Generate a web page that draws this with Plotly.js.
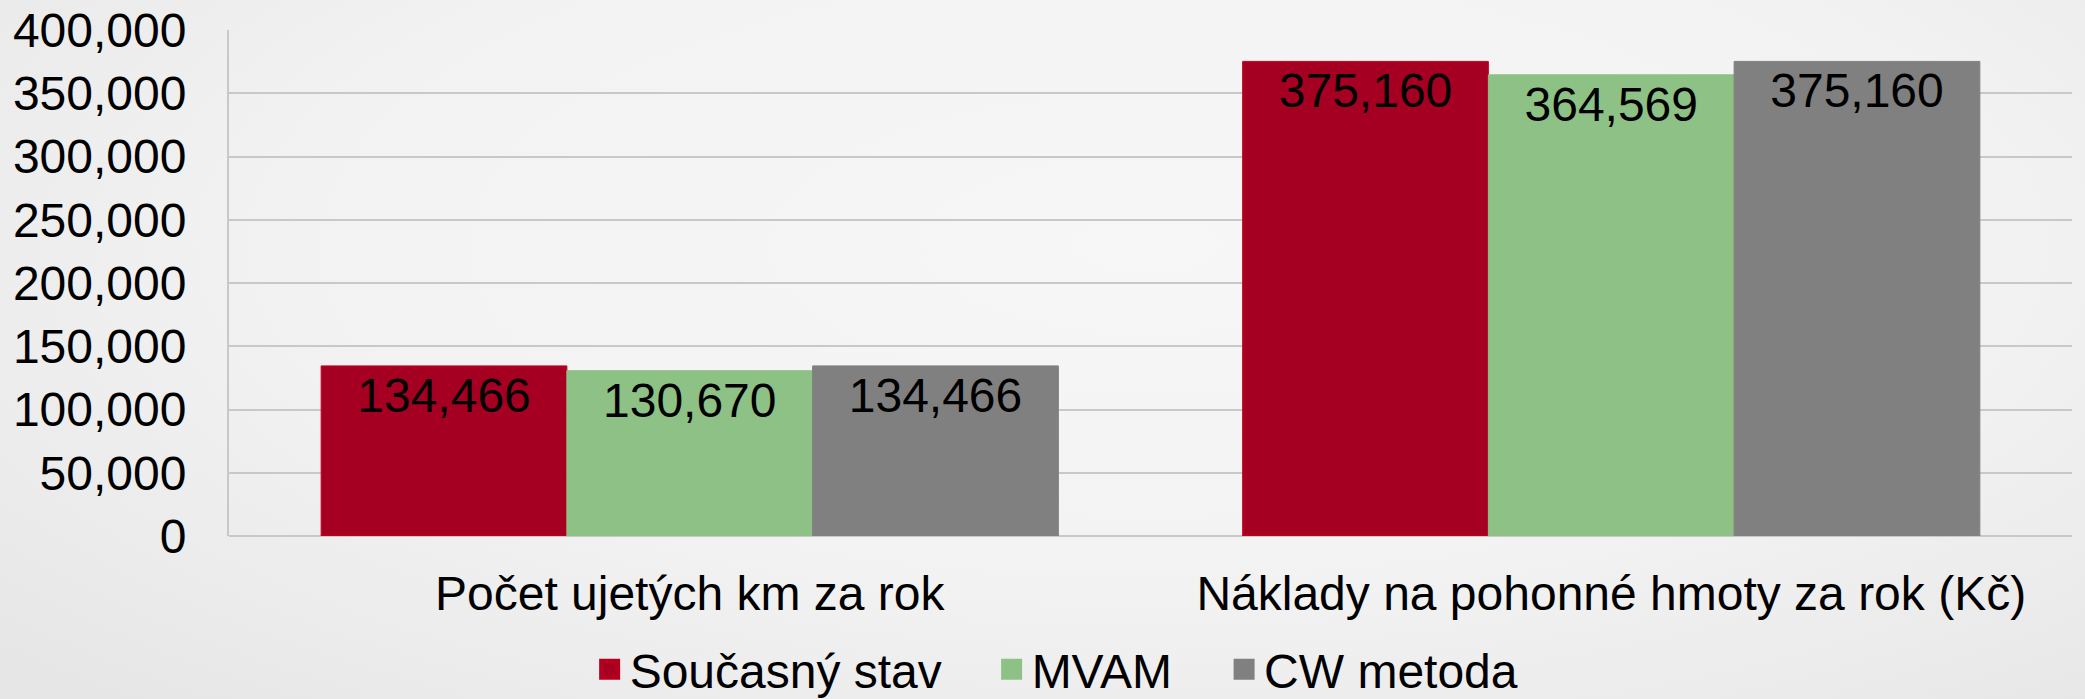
<!DOCTYPE html>
<html>
<head>
<meta charset="utf-8">
<script src="https://cdn.plot.ly/plotly-3.0.1.min.js"></script>
<style>
html,body{margin:0;padding:0;}
body{background:radial-gradient(ellipse 75% 90% at 55% 35%, #f7f7f7 0%, #f2f2f2 55%, #e6e6e6 100%);width:2085px;height:699px;overflow:hidden;}
#chart{width:2085px;height:699px;}
</style>
</head>
<body>
<div id="chart"></div>
<script>
const categories = ["Počet ujetých km za rok", "Náklady na pohonné hmoty za rok (Kč)"];
const seriesNames = ["Současný stav", "MVAM", "CW metoda"];
const soucasnyStav = [134466, 375160];
const mvam = [130670, 364569];
const cwMetoda = [134466, 375160];
const yTickVals = [0, 50000, 100000, 150000, 200000, 250000, 300000, 350000, 400000];
const yTickText = ["0", "50,000", "100,000", "150,000", "200,000", "250,000", "300,000", "350,000", "400,000"];

const colors = ["#a50021", "#8ec185", "#808080"];
const lineColors = ["#d0001a", "#8ec185", "#808080"];
const legendLineColors = ["#b3001f", "#8ec185", "#808080"];
const legendIds = ["legend", "legend2", "legend3"];
const legendX = [0.2828, 0.4756, 0.5871];
const seriesValues = [soucasnyStav, mvam, cwMetoda];
const FONT = "Liberation Sans, Arial, sans-serif";
const FS = 48;

const barTraces = seriesValues.map((vals, i) => ({
  type: "bar",
  name: seriesNames[i],
  x: categories,
  y: vals,
  showlegend: false,
  marker: {color: colors[i], line: {color: lineColors[i], width: 1}},
  text: vals.map(v => v.toLocaleString("en-US")),
  textposition: "inside",
  insidetextanchor: "end",
  textangle: 0,
  textfont: {family: FONT, size: FS, color: "#000000"},
  cliponaxis: false,
  hoverinfo: "x+y"
}));

// legend-only entries (no marks drawn), one per series
const legendTraces = seriesNames.map((name, i) => ({
  type: "scatter",
  mode: "markers",
  name: name,
  x: [null],
  y: [null],
  legend: legendIds[i],
  showlegend: true,
  marker: {symbol: "square", size: 16, color: colors[i], line: {color: legendLineColors[i], width: 5}},
  hoverinfo: "skip"
}));

const legendBase = {
  orientation: "h",
  xref: "container",
  yref: "container",
  xanchor: "left",
  y: 0.042,
  yanchor: "middle",
  font: {family: FONT, size: FS, color: "#000000"},
  bgcolor: "rgba(0,0,0,0)",
  borderwidth: 0,
  itemwidth: 30
};

const layout = {
  width: 2085,
  height: 699,
  paper_bgcolor: "rgba(0,0,0,0)",
  plot_bgcolor: "rgba(0,0,0,0)",
  margin: {l: 229, r: 13, t: 30, b: 163},
  barmode: "group",
  bargap: 0.2,
  bargroupgap: 0,
  font: {family: FONT, size: FS, color: "#000000"},
  xaxis: {
    type: "category",
    showgrid: false,
    showline: false,
    zeroline: false,
    ticks: "",
    tickfont: {family: FONT, size: FS, color: "#000000"},
    ticklabelstandoff: 25
  },
  yaxis: {
    range: [0, 400000],
    tickvals: yTickVals,
    ticktext: yTickText,
    showgrid: true,
    gridcolor: "#c8c8c8",
    gridwidth: 2,
    showline: true,
    linecolor: "#c8c8c8",
    linewidth: 2,
    zeroline: true,
    zerolinecolor: "#c8c8c8",
    zerolinewidth: 2,
    ticks: "",
    ticklabelstandoff: 31,
    tickfont: {family: FONT, size: FS, color: "#000000"}
  },
  showlegend: true
};
legendIds.forEach((id, i) => {
  layout[id] = Object.assign({}, legendBase, {x: legendX[i]});
});

Plotly.newPlot("chart", barTraces.concat(legendTraces), layout, {displayModeBar: false, staticPlot: true});
</script>
</body>
</html>
